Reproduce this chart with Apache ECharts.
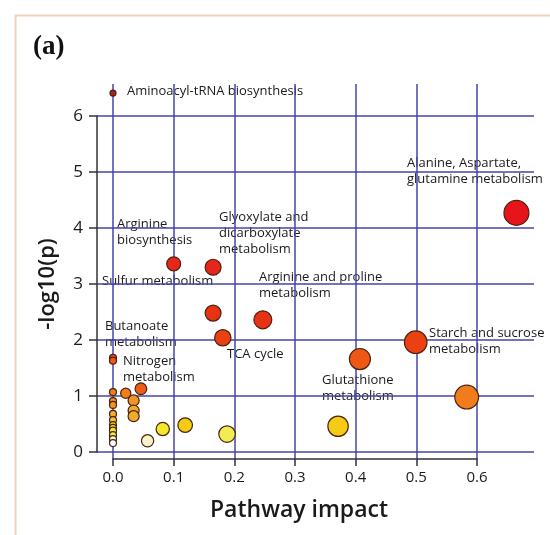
<!DOCTYPE html>
<html>
<head>
<meta charset="utf-8">
<title>Pathway impact</title>
<script src="https://cdn.jsdelivr.net/npm/echarts@6.0.0/dist/echarts.min.js"></script>
<style>
  html, body { margin: 0; padding: 0; background: #fff; }
  #chart { width: 550px; height: 535px; }
</style>
</head>
<body>
<div id="chart"></div>
<script>
// pathway names ('' = unlabelled point), impact (x) and -log10(p) (y)
const pathway = [
  "Aminoacyl-tRNA biosynthesis",
  "Alanine, Aspartate, glutamine metabolism",
  "Arginine biosynthesis",
  "Glyoxylate and dicarboxylate metabolism",
  "Sulfur metabolism",
  "Arginine and proline metabolism",
  "TCA cycle",
  "Starch and sucrose metabolism",
  "Butanoate metabolism",
  "Glutathione metabolism",
  "Nitrogen metabolism",
  "", "", "", "", "", "", "", "", "", "", "",
  "", "", "", "", "", "", "", "", "", "", ""
];
const impact = [
  0, 0.665, 0.10, 0.165, 0.165, 0.247, 0.181, 0.499, 0, 0.407, 0,
  0.046, 0.021, 0, 0.583, 0.034, 0, 0, 0.034, 0.034, 0, 0,
  0.119, 0, 0.371, 0, 0.082, 0, 0.188, 0, 0, 0.057, 0
];
const logP = [
  6.41, 4.27, 3.36, 3.30, 2.48, 2.36, 2.04, 1.96, 1.68, 1.66, 1.63,
  1.13, 1.05, 1.07, 0.98, 0.92, 0.91, 0.84, 0.74, 0.64, 0.68, 0.57,
  0.48, 0.48, 0.46, 0.43, 0.41, 0.38, 0.32, 0.30, 0.23, 0.20, 0.16
];
const xTicks = [0, 0.1, 0.2, 0.3, 0.4, 0.5, 0.6];
const yTicks = [0, 1, 2, 3, 4, 5, 6];

const points = impact.map((x, i) => [x, logP[i], pathway[i]]);
// draw big circles first so small ones stay visible
points.sort((a, b) => b[0] - a[0]);

const gridColor = "#4646a6";
const axisColor = "#333";
const sans = "'Open Sans', 'DejaVu Sans', sans-serif";

// label text placed next to the points
const notes = [
  { text: "Aminoacyl-tRNA biosynthesis", left: 127, top: 83 },
  { text: "Alanine, Aspartate,\nglutamine metabolism", left: 407, top: 155 },
  { text: "Glyoxylate and\ndicarboxylate\nmetabolism", left: 219, top: 209 },
  { text: "Arginine\nbiosynthesis", left: 117, top: 216 },
  { text: "Arginine and proline\nmetabolism", left: 259, top: 269 },
  { text: "Sulfur metabolism", left: 102, top: 273 },
  { text: "Butanoate\nmetabolism", left: 105, top: 318 },
  { text: "Starch and sucrose\nmetabolism", left: 429, top: 325 },
  { text: "TCA cycle", left: 227, top: 346 },
  { text: "Nitrogen\nmetabolism", left: 123, top: 353 },
  { text: "Glutathione\nmetabolism", left: 322, top: 372 }
];

const chart = echarts.init(document.getElementById("chart"));

chart.setOption({
  animation: false,
  backgroundColor: "#fff",
  grid: [
    // data grid (hidden axes)
    { left: 97, right: 16, top: 84, bottom: 76 },
    // x axis + vertical grid lines
    { left: 113, right: 73, top: 84, bottom: 76 },
    // y axis + horizontal grid lines
    { left: 97, right: 16, top: 116, bottom: 83 }
  ],
  xAxis: [
    { gridIndex: 0, type: "value", min: -0.02637, max: 0.69396, show: false },
    {
      gridIndex: 1, type: "value",
      min: xTicks[0], max: xTicks[xTicks.length - 1], interval: 0.1,
      axisLine: { show: true, onZero: false, lineStyle: { color: axisColor, width: 1.5 } },
      axisTick: { show: true, length: 7, lineStyle: { color: axisColor, width: 1.5 } },
      axisLabel: { margin: 11, fontSize: 15, fontWeight: 500, color: "#1a1a1a", fontFamily: sans, formatter: (v) => v.toFixed(1) },
      splitLine: { show: true, lineStyle: { color: gridColor, width: 1.5 } },
      name: "Pathway impact", nameLocation: "middle", nameGap: 40,
      nameTextStyle: { fontSize: 23, fontWeight: 600, color: "#1a1a1a", fontFamily: sans, padding: [0, 0, 0, 8] }
    },
    { gridIndex: 2, type: "value", min: 0, max: 1, show: false }
  ],
  yAxis: [
    { gridIndex: 0, type: "value", min: -0.125, max: 6.5714, show: false },
    { gridIndex: 1, type: "value", min: 0, max: 1, show: false },
    {
      gridIndex: 2, type: "value",
      min: yTicks[0], max: yTicks[yTicks.length - 1], interval: 1,
      axisLine: { show: true, lineStyle: { color: axisColor, width: 1.5 } },
      axisTick: { show: true, length: 8, lineStyle: { color: axisColor, width: 1.5 } },
      axisLabel: { margin: 14, fontSize: 17, fontWeight: 500, color: "#1a1a1a", fontFamily: sans },
      splitLine: { show: true, lineStyle: { color: gridColor, width: 1.5 } },
      name: "-log10(p)", nameLocation: "middle", nameGap: 38,
      nameTextStyle: { fontSize: 22, fontWeight: 600, color: "#1a1a1a", fontFamily: sans }
    }
  ],
  visualMap: {
    type: "piecewise",
    show: false,
    dimension: 1,
    seriesIndex: 0,
    pieces: [
      { gte: 5, color: "#b01c1c" },
      { gte: 3.8, lt: 5, color: "#e8141c" },
      { gte: 2.8, lt: 3.8, color: "#e5261a" },
      { gte: 2.2, lt: 2.8, color: "#e83214" },
      { gte: 1.8, lt: 2.2, color: "#eb4012" },
      { gte: 1.5, lt: 1.8, color: "#ee5814" },
      { gte: 1.1, lt: 1.5, color: "#ea5e18" },
      { gte: 0.95, lt: 1.1, color: "#f07c1c" },
      { gte: 0.8, lt: 0.95, color: "#f09424" },
      { gte: 0.6, lt: 0.8, color: "#f0aa2c" },
      { gte: 0.5, lt: 0.6, color: "#f0c22c" },
      { gte: 0.44, lt: 0.5, color: "#f4cc14" },
      { gte: 0.35, lt: 0.44, color: "#f2ea28" },
      { gte: 0.27, lt: 0.35, color: "#f0ec54" },
      { gte: 0.18, lt: 0.27, color: "#f6f4c8" },
      { lt: 0.18, color: "#ffffff" }
    ]
  },
  series: [
    {
      type: "scatter",
      xAxisIndex: 0,
      yAxisIndex: 0,
      clip: false,
      data: points,
      symbol: "circle",
      symbolSize: (v) => (v[0] === 0 && v[1] > 6 ? 6 : 7 + 22 * Math.sqrt(v[0])),
      itemStyle: { borderColor: "#4a2210", borderWidth: 1.2, opacity: 1 }
    }
  ],
  graphic: [
    {
      type: "rect", left: 13, top: 13, silent: true,
      shape: { width: 620, height: 620 },
      style: { fill: "none", stroke: "#ecd4bc", lineWidth: 2 }
    },
    {
      type: "text", left: 33, top: 34,
      style: { text: "(a)", font: "bold 27px 'Liberation Serif', serif", fill: "#111" }
    },
    ...notes.map((n) => ({
      type: "text", left: n.left, top: n.top,
      style: {
        text: n.text, fontSize: 13, fontFamily: sans, fill: "#1a1a1a", lineHeight: 16
      }
    }))
  ]
});
</script>
</body>
</html>
